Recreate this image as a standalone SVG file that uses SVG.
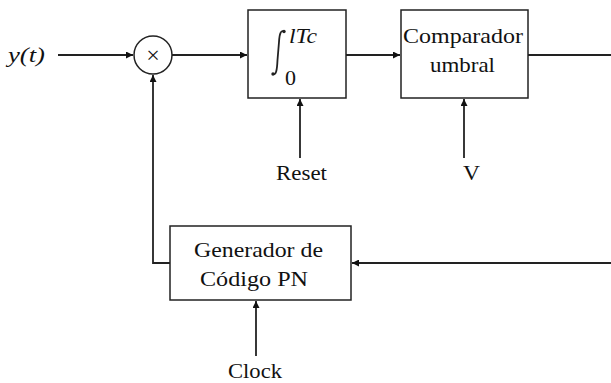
<svg xmlns="http://www.w3.org/2000/svg" width="611" height="383" viewBox="0 0 611 383">
<defs>
<marker id="ah" viewBox="0 0 10 10" refX="10" refY="5" markerWidth="9" markerHeight="7" markerUnits="userSpaceOnUse" orient="auto">
<path d="M0,0 L10,5 L0,10 z" fill="#111"/>
</marker>
</defs>
<style>
.box{fill:#fff;stroke:#222;stroke-width:1.5}
.ln{fill:none;stroke:#222;stroke-width:1.8}
text{fill:#111}
</style>
<rect width="611" height="383" fill="#fff"/>
<g id="connectors">
<line class="ln" x1="58" y1="55" x2="133" y2="55" marker-end="url(#ah)"/>
<line class="ln" x1="172" y1="55" x2="247" y2="55" marker-end="url(#ah)"/>
<line class="ln" x1="346" y1="55" x2="400" y2="55" marker-end="url(#ah)"/>
<line class="ln" x1="528" y1="55" x2="611" y2="55"/>
<line class="ln" x1="611" y1="263" x2="352" y2="263" marker-end="url(#ah)"/>
<polyline class="ln" points="170,263 153,263 153,75" marker-end="url(#ah)"/>
<line class="ln" x1="300" y1="158" x2="300" y2="99" marker-end="url(#ah)"/>
<line class="ln" x1="464" y1="158" x2="464" y2="99" marker-end="url(#ah)"/>
<line class="ln" x1="256" y1="356" x2="256" y2="301" marker-end="url(#ah)"/>
</g>
<g font-family="'Liberation Serif', 'Times New Roman', serif" font-size="22">
<g id="input">
<text x="8" y="62" font-style="italic" font-size="22" textLength="37" lengthAdjust="spacingAndGlyphs">y(t)</text>
</g>
<g id="multiplier">
<circle cx="153" cy="55" r="19" fill="#fff" stroke="#222" stroke-width="1.5"/>
<text x="153" y="63" text-anchor="middle" font-size="24">×</text>
</g>
<g id="integrator">
<rect class="box" x="248" y="10" width="98" height="88"/>
<path d="M273,74 C276,75 277,71 277.5,60 L279,42 C279.5,33 281,30 284,31.5" fill="none" stroke="#222" stroke-width="1.8"/>
<circle cx="273" cy="74" r="1.7" fill="#222"/>
<circle cx="284" cy="31.5" r="1.7" fill="#222"/>
<text x="289" y="43" font-style="italic" font-size="21" textLength="28" lengthAdjust="spacingAndGlyphs">lTc</text>
<text x="285" y="85" font-size="22">0</text>
</g>
<g id="comparador">
<rect class="box" x="401" y="10" width="127" height="88"/>
<text x="403" y="43" textLength="120" lengthAdjust="spacingAndGlyphs">Comparador</text>
<text x="430" y="72" textLength="65" lengthAdjust="spacingAndGlyphs">umbral</text>
</g>
<g id="generador">
<rect class="box" x="170" y="226" width="181" height="74"/>
<text x="194" y="257" textLength="129" lengthAdjust="spacingAndGlyphs">Generador de</text>
<text x="200" y="286" textLength="108" lengthAdjust="spacingAndGlyphs">Código PN</text>
</g>
<g id="labels">
<text x="276" y="180" textLength="51" lengthAdjust="spacingAndGlyphs">Reset</text>
<text x="463" y="180" textLength="17" lengthAdjust="spacingAndGlyphs">V</text>
<text x="228" y="378" textLength="54" lengthAdjust="spacingAndGlyphs">Clock</text>
</g>
</g>
</svg>
